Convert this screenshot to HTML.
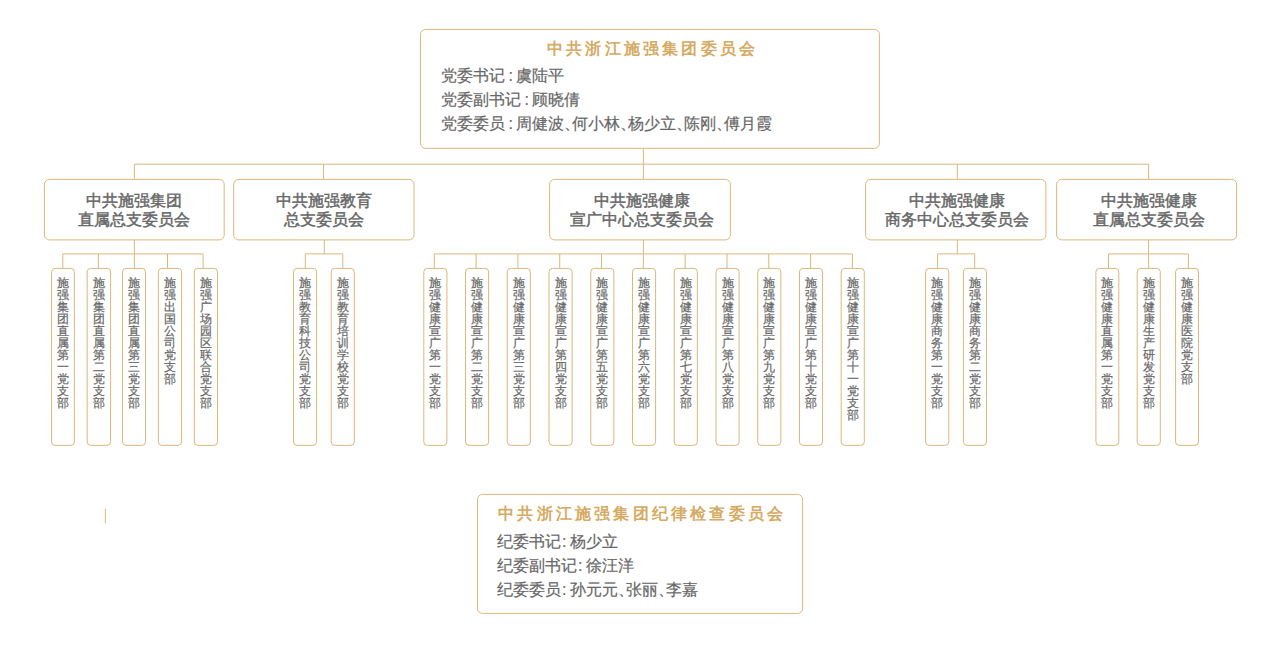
<!DOCTYPE html>
<html><head><meta charset="utf-8"><style>
html,body{margin:0;padding:0;background:#fff;}
body{width:1280px;height:656px;position:relative;overflow:hidden;font-family:"Liberation Sans",sans-serif;color:#666666;}
svg{position:absolute;left:0;top:0;}
.t2{position:absolute;top:191px;text-align:center;font-size:16px;line-height:19px;-webkit-text-stroke:0.45px #666666;white-space:nowrap;}
.leaf{position:absolute;top:277px;width:12px;word-break:break-all;font-size:12px;line-height:12px;-webkit-text-stroke:0.2px #666666;}
.ttl{position:absolute;text-align:center;color:#d5ab64;font-weight:bold;font-size:16px;line-height:20px;letter-spacing:3.2px;text-indent:3.2px;white-space:nowrap;}
.ls{position:absolute;font-size:16px;line-height:24px;white-space:nowrap;-webkit-text-stroke:0.2px #666666;}
.ls i{font-style:normal;letter-spacing:-8px;}
.ls b{font-weight:normal;letter-spacing:3.5px;margin-left:1px}
.tl{word-spacing:-1px;}
</style></head><body>
<svg width="1280" height="656" viewBox="0 0 1280 656"><g fill="none" stroke="#dcb77a" stroke-width="1">
<path d="M643.40 148.30L643.40 164.20"/>
<path d="M134.40 164.20L1148.60 164.20"/>
<path d="M134.40 164.20L134.40 179.40"/>
<path d="M323.50 164.20L323.50 179.40"/>
<path d="M643.40 164.20L643.40 179.40"/>
<path d="M957.30 164.20L957.30 179.40"/>
<path d="M1148.60 164.20L1148.60 179.40"/>
<path d="M134.40 239.90L134.40 253.90"/>
<path d="M62.80 253.90L203.10 253.90"/>
<path d="M62.80 253.90L62.80 268.40"/>
<rect x="51.60" y="268.40" width="22.80" height="176.95" rx="3.5"/>
<path d="M98.40 253.90L98.40 268.40"/>
<rect x="87.20" y="268.40" width="23.40" height="176.95" rx="3.5"/>
<path d="M134.40 253.90L134.40 268.40"/>
<rect x="122.50" y="268.40" width="23.00" height="176.95" rx="3.5"/>
<path d="M167.50 253.90L167.50 268.40"/>
<rect x="158.40" y="268.40" width="23.20" height="176.95" rx="3.5"/>
<path d="M203.10 253.90L203.10 268.40"/>
<rect x="194.30" y="268.40" width="23.20" height="176.95" rx="3.5"/>
<path d="M324.30 239.90L324.30 253.90"/>
<path d="M305.30 253.90L342.80 253.90"/>
<path d="M305.30 253.90L305.30 268.40"/>
<rect x="293.50" y="268.40" width="23.10" height="176.95" rx="3.5"/>
<path d="M342.80 253.90L342.80 268.40"/>
<rect x="331.20" y="268.40" width="23.10" height="176.95" rx="3.5"/>
<path d="M643.40 239.90L643.40 253.90"/>
<path d="M434.30 253.90L852.40 253.90"/>
<path d="M434.30 253.90L434.30 268.40"/>
<rect x="423.80" y="268.40" width="23.10" height="176.95" rx="3.5"/>
<path d="M476.11 253.90L476.11 268.40"/>
<rect x="465.54" y="268.40" width="23.10" height="176.95" rx="3.5"/>
<path d="M517.92 253.90L517.92 268.40"/>
<rect x="507.28" y="268.40" width="23.10" height="176.95" rx="3.5"/>
<path d="M559.73 253.90L559.73 268.40"/>
<rect x="549.02" y="268.40" width="23.10" height="176.95" rx="3.5"/>
<path d="M601.54 253.90L601.54 268.40"/>
<rect x="590.76" y="268.40" width="23.10" height="176.95" rx="3.5"/>
<path d="M643.35 253.90L643.35 268.40"/>
<rect x="632.50" y="268.40" width="23.10" height="176.95" rx="3.5"/>
<path d="M685.16 253.90L685.16 268.40"/>
<rect x="674.24" y="268.40" width="23.10" height="176.95" rx="3.5"/>
<path d="M726.97 253.90L726.97 268.40"/>
<rect x="715.98" y="268.40" width="23.10" height="176.95" rx="3.5"/>
<path d="M768.78 253.90L768.78 268.40"/>
<rect x="757.72" y="268.40" width="23.10" height="176.95" rx="3.5"/>
<path d="M810.59 253.90L810.59 268.40"/>
<rect x="799.46" y="268.40" width="23.10" height="176.95" rx="3.5"/>
<path d="M852.40 253.90L852.40 268.40"/>
<rect x="841.20" y="268.40" width="23.10" height="176.95" rx="3.5"/>
<path d="M957.30 239.90L957.30 253.90"/>
<path d="M937.60 253.90L974.70 253.90"/>
<path d="M937.60 253.90L937.60 268.40"/>
<rect x="925.60" y="268.40" width="23.20" height="176.95" rx="3.5"/>
<path d="M974.70 253.90L974.70 268.40"/>
<rect x="963.40" y="268.40" width="23.10" height="176.95" rx="3.5"/>
<path d="M1148.60 239.90L1148.60 253.90"/>
<path d="M1108.50 253.90L1188.40 253.90"/>
<path d="M1108.50 253.90L1108.50 268.40"/>
<rect x="1095.90" y="268.40" width="22.90" height="176.95" rx="3.5"/>
<path d="M1148.60 253.90L1148.60 268.40"/>
<rect x="1137.20" y="268.40" width="23.10" height="176.95" rx="3.5"/>
<path d="M1188.40 253.90L1188.40 268.40"/>
<rect x="1175.60" y="268.40" width="22.90" height="176.95" rx="3.5"/>
<rect x="44.40" y="179.40" width="179.80" height="60.50" rx="5"/>
<rect x="233.70" y="179.40" width="180.30" height="60.50" rx="5"/>
<rect x="549.60" y="179.40" width="180.80" height="60.50" rx="5"/>
<rect x="865.60" y="179.40" width="180.30" height="60.50" rx="5"/>
<rect x="1056.60" y="179.40" width="180.00" height="60.50" rx="5"/>
<rect x="420.50" y="29.40" width="458.90" height="118.90" rx="5"/>
<rect x="477.50" y="494.40" width="325.10" height="119.00" rx="5"/>
<path d="M105.40 508.70L105.40 523.20"/>
</g></svg>
<div class="leaf" style="left:57.00px">施强集团直属第一党支部</div>
<div class="leaf" style="left:92.90px">施强集团直属第二党支部</div>
<div class="leaf" style="left:128.00px">施强集团直属第三党支部</div>
<div class="leaf" style="left:164.00px">施强出国公司党支部</div>
<div class="leaf" style="left:199.90px">施强广场园区联合党支部</div>
<div class="leaf" style="left:299.05px">施强教育科技公司党支部</div>
<div class="leaf" style="left:336.75px">施强教育培训学校党支部</div>
<div class="leaf" style="left:429.35px">施强健康宣广第一党支部</div>
<div class="leaf" style="left:471.09px">施强健康宣广第二党支部</div>
<div class="leaf" style="left:512.83px">施强健康宣广第三党支部</div>
<div class="leaf" style="left:554.57px">施强健康宣广第四党支部</div>
<div class="leaf" style="left:596.31px">施强健康宣广第五党支部</div>
<div class="leaf" style="left:638.05px">施强健康宣广第六党支部</div>
<div class="leaf" style="left:679.79px">施强健康宣广第七党支部</div>
<div class="leaf" style="left:721.53px">施强健康宣广第八党支部</div>
<div class="leaf" style="left:763.27px">施强健康宣广第九党支部</div>
<div class="leaf" style="left:805.01px">施强健康宣广第十党支部</div>
<div class="leaf" style="left:846.75px">施强健康宣广第十一党支部</div>
<div class="leaf" style="left:931.20px">施强健康商务第一党支部</div>
<div class="leaf" style="left:968.95px">施强健康商务第二党支部</div>
<div class="leaf" style="left:1101.35px">施强健康直属第一党支部</div>
<div class="leaf" style="left:1142.75px">施强健康生产研发党支部</div>
<div class="leaf" style="left:1181.05px">施强健康医院党支部</div>
<div class="t2" style="left:44.20px;width:180px">中共施强集团<br>直属总支委员会</div>
<div class="t2" style="left:234.00px;width:180px">中共施强教育<br>总支委员会</div>
<div class="t2" style="left:552.30px;width:180px">中共施强健康<br>宣广中心总支委员会</div>
<div class="t2" style="left:866.50px;width:180px">中共施强健康<br>商务中心总支委员会</div>
<div class="t2" style="left:1059.00px;width:180px">中共施强健康<br>直属总支委员会</div>
<div class="ttl" style="left:421.5px;width:459px;top:39px">中共浙江施强集团委员会</div>
<div class="ls tl" style="left:441px;top:64px"><div>党委书记 : 虞陆平</div><div>党委副书记 : 顾晓倩</div><div>党委委员 : 周健波<i>、</i>何小林<i>、</i>杨少立<i>、</i>陈刚<i>、</i>傅月霞</div></div>
<div class="ttl" style="left:495px;top:504px;text-align:left">中共浙江施强集团纪律检查委员会</div>
<div class="ls" style="left:497px;top:530px"><div>纪委书记<b>:</b>杨少立</div><div>纪委副书记<b>:</b>徐汪洋</div><div>纪委委员<b>:</b>孙元元<i>、</i>张丽<i>、</i>李嘉</div></div>
</body></html>
